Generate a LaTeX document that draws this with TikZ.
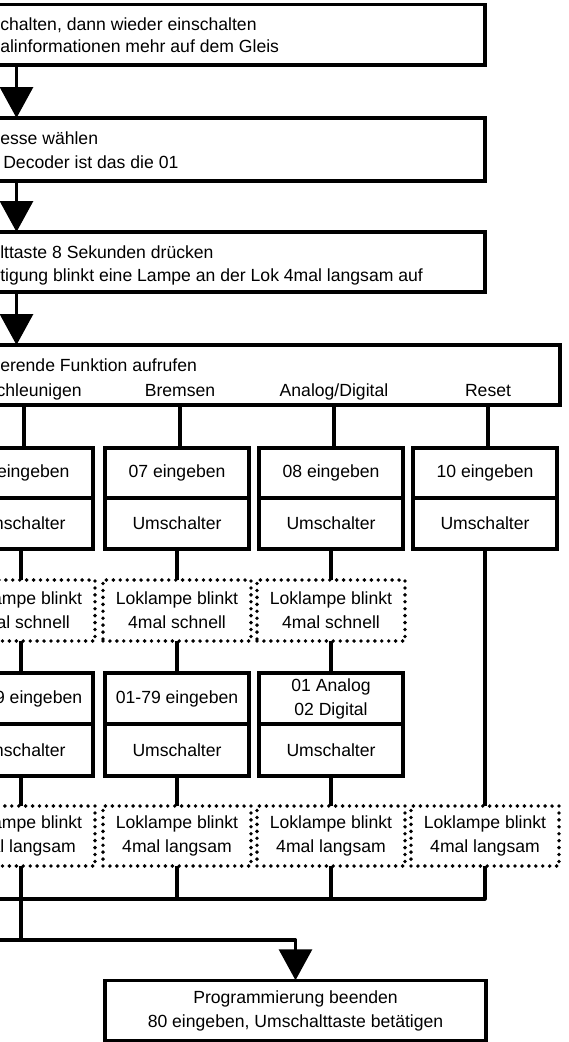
\documentclass[tikz,border=0pt]{standalone}
\usepackage{fontspec}
\setmainfont{Liberation Sans}
\usetikzlibrary{arrows.meta,calc}

\begin{document}
\begin{tikzpicture}[x=0.75pt,y=-0.75pt,
  font=\fontsize{13.2}{18}\selectfont,
  frame/.style={draw,line width=2.4pt,inner sep=0pt,outer sep=0pt},
  cell/.style={frame,minimum width=144*0.75pt,align=center},
  dotbox/.style={draw,line width=2.9pt,line cap=round,dash pattern=on 0pt off 5.2pt,
    inner sep=0pt,outer sep=0pt,minimum width=148*0.75pt,minimum height=60*0.75pt,align=center},
  wire/.style={line width=2.4pt,line join=round},
  arr/.style={wire,-{Triangle[length=31*0.75pt,width=33*0.75pt]}},
  txt/.style={inner sep=0pt,anchor=base west},
  lbl/.style={inner sep=0pt,anchor=base}
]
\useasboundingbox (0,0) rectangle (568,1042);

% --- sequence of steps at the top ---
\node[frame,minimum width=700*0.75pt,minimum height=60.3*0.75pt,anchor=north east] (box1) at (485,4.7) {};
\node[txt] (t1a) at (0,30.5) {chalten, dann wieder einschalten};
\node[txt] (t1b) at (0,52.5) {alinformationen mehr auf dem Gleis};

\node[frame,minimum width=700*0.75pt,minimum height=63*0.75pt,anchor=north east] (box2) at (485,118) {};
\node[txt] (t2a) at (0,144) {esse wählen};
\node[txt] (t2b) at (3,168) {Decoder ist das die 01};

\node[frame,minimum width=700*0.75pt,minimum height=60*0.75pt,anchor=north east] (box3) at (485,232) {};
\node[txt] (t3a) at (0,258) {lttaste 8 Sekunden drücken};
\node[txt] (t3b) at (0,281) {tigung blinkt eine Lampe an der Lok 4mal langsam auf};

\node[frame,minimum width=775*0.75pt,minimum height=60*0.75pt,anchor=north east] (box4) at (560,345) {};
\node[txt] (t4a) at (0,371) {erende Funktion aufrufen};
\node[lbl] (lA) at (24,396) {Beschleunigen};
\node[lbl] (lB) at (180,396) {Bremsen};
\node[lbl] (lC) at (334,396) {Analog/Digital};
\node[lbl] (lD) at (488,396) {Reset};

\coordinate (ax) at (16.5,0);
\draw[arr] (box1.south -| ax) -- (box2.north -| ax);
\draw[arr] (box2.south -| ax) -- (box3.north -| ax);
\draw[arr] (box3.south -| ax) -- (box4.north -| ax);

% --- first row of cells ---
\node[cell,minimum height=50*0.75pt] (a1) at (21,473) {\hphantom{00 }eingeben};
\node[cell,minimum height=51*0.75pt] (a2) at (21,523.5) {Umschalter};
\node[cell,minimum height=50*0.75pt] (b1) at (177,473) {07 eingeben};
\node[cell,minimum height=51*0.75pt] (b2) at (177,523.5) {Umschalter};
\node[cell,minimum height=50*0.75pt] (c1) at (331,473) {08 eingeben};
\node[cell,minimum height=51*0.75pt] (c2) at (331,523.5) {Umschalter};
\node[cell,minimum height=50*0.75pt] (d1) at (485,473) {10 eingeben};
\node[cell,minimum height=51*0.75pt] (d2) at (485,523.5) {Umschalter};

\draw[wire] (box4.south -| lA) -- (a1.north -| lA);
\draw[wire] (box4.south -| lB) -- (b1.north -| lB);
\draw[wire] (box4.south -| lC) -- (c1.north -| lC);
\draw[wire] (box4.south -| lD) -- (d1.north -| lD);

% --- fast blinking acknowledgement ---
\node[dotbox,minimum height=61*0.75pt] (dA1) at (21,610.5) {Loklampe blinkt\\4mal schnell};
\node[dotbox,minimum height=61*0.75pt] (dB1) at (177,610.5) {Loklampe blinkt\\4mal schnell};
\node[dotbox,minimum height=61*0.75pt] (dC1) at (331,610.5) {Loklampe blinkt\\4mal schnell};

\draw[wire] (a2) -- (dA1);
\draw[wire] (b2) -- (dB1);
\draw[wire] (c2) -- (dC1);

% --- second row of cells ---
\node[cell,minimum height=51*0.75pt] (a3) at (21,698.5) {\hphantom{01-7}9 eingeben};
\node[cell,minimum height=52*0.75pt] (a4) at (21,750) {Umschalter};
\node[cell,minimum height=51*0.75pt] (b3) at (177,698.5) {01-79 eingeben};
\node[cell,minimum height=52*0.75pt] (b4) at (177,750) {Umschalter};
\node[cell,minimum height=51*0.75pt] (c3) at (331,698.5) {01 Analog\\02 Digital};
\node[cell,minimum height=52*0.75pt] (c4) at (331,750) {Umschalter};

\draw[wire] (dA1) -- (a3);
\draw[wire] (dB1) -- (b3);
\draw[wire] (dC1) -- (c3);

% --- slow blinking acknowledgement ---
\node[dotbox] (dA2) at (21,836) {Loklampe blinkt\\4mal langsam};
\node[dotbox] (dB2) at (177,836) {Loklampe blinkt\\4mal langsam};
\node[dotbox] (dC2) at (331,836) {Loklampe blinkt\\4mal langsam};
\node[dotbox] (dD2) at (485,836) {Loklampe blinkt\\4mal langsam};

\draw[wire] (a4) -- (dA2);
\draw[wire] (b4) -- (dB2);
\draw[wire] (c4) -- (dC2);
\draw[wire] (d2) -- (dD2);

% --- collecting lines and final step ---
\coordinate (busA) at (-20,899);
\coordinate (busB) at (-20,940);
\node[frame,minimum width=381*0.75pt,minimum height=60.5*0.75pt,align=center] (fin) at (295.5,1010.5)
  {Programmierung beenden\\80 eingeben, Umschalttaste betätigen};

\draw[wire] (busA) -| (dD2.south);
\draw[wire] (dB2.south) -- (dB2.south |- busA);
\draw[wire] (dC2.south) -- (dC2.south |- busA);
\draw[wire] (dA2.south) -- (dA2.south |- busB);
\draw[arr] (busB) -| (fin.north);
\end{tikzpicture}
\end{document}
